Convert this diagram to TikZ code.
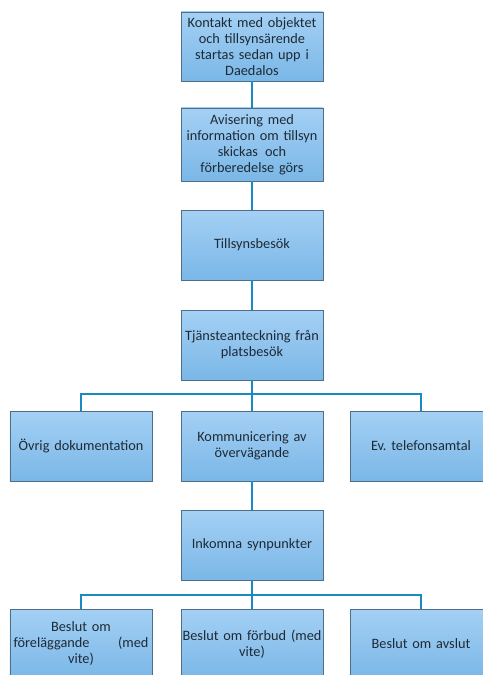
\documentclass[tikz,border=0pt]{standalone}
\usepackage{fontspec}
\setmainfont{Carlito}
\frenchspacing
\begin{document}
\begin{tikzpicture}[x=1bp,y=-1bp,
  box/.style={draw=boxedge, line width=0.8bp, top color=boxtop, bottom color=boxbot,
    minimum width=142bp, minimum height=70bp, inner sep=0bp, text width=142bp, align=center,
    text=textc, font=\fontsize{14.3bp}{16bp}\selectfont},
  conn/.style={draw=linec, line width=2bp}]
\definecolor{boxtop}{HTML}{A4D0F4}
\definecolor{boxbot}{HTML}{7AB7E7}
\definecolor{boxedge}{HTML}{4F6E88}
\definecolor{textc}{HTML}{1E2A36}
\definecolor{linec}{HTML}{1A8AC3}
\clip (0,0) rectangle (483,675);
\useasboundingbox (0,0) rectangle (483,675);
\node[box, minimum height=69bp] (b1) at (252,46.5) {Kontakt med objektet\\och tillsynsärende\\startas sedan upp i\\Daedalos};
\node[box, minimum height=73bp] (b2) at (252,144.5) {Avisering med\\information om tillsyn\\skickas\, och\\förberedelse görs};
\node[box] (b3) at (252,245) {Tillsynsbesök};
\node[box] (b4) at (252,345) {Tjänsteanteckning från\\platsbesök};
\node[box] (l1) at (81,446) {Övrig dokumentation};
\node[box] (m1) at (252,446) {Kommunicering av\\övervägande};
\node[box] (r1) at (421,446) {Ev. telefonsamtal};
\node[box] (b5) at (252,545) {Inkomna synpunkter};
\node[box] (l2) at (81,644) {Beslut om\\föreläggande\hspace{2em}(med\\vite)};
\node[box] (m2) at (252,644) {Beslut om förbud (med\\vite)};
\node[box] (r2) at (421,644) {Beslut om avslut};
\coordinate (j1) at (252,394);
\coordinate (j2) at (252,595);
\begin{scope}[on background layer/.try]
\draw[conn] (b1) -- (b2);
\draw[conn] (b2) -- (b3);
\draw[conn] (b3) -- (b4);
\draw[conn] (b4) -- (m1);
\draw[conn] (j1) -| (l1.north);
\draw[conn] (j1) -| (r1.north);
\draw[conn] (b5) -- (m1);
\draw[conn] (b5) -- (m2);
\draw[conn] (j2) -| (l2.north);
\draw[conn] (j2) -| (r2.north);
\end{scope}
\end{tikzpicture}
\end{document}
